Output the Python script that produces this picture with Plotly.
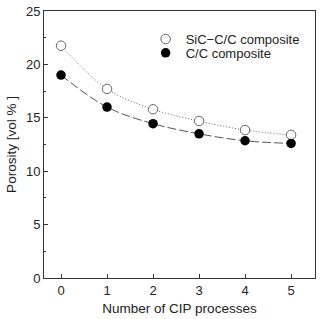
import plotly.graph_objects as go

cycles = [0, 1, 2, 3, 4, 5]
sic_cc = [21.75, 17.7, 15.8, 14.7, 13.85, 13.4]
cc = [19.0, 16.0, 14.45, 13.5, 12.85, 12.6]

fig = go.Figure()
fig.add_trace(go.Scatter(x=cycles, y=sic_cc, mode="lines", line=dict(color="#666", width=1, dash="1px,2px", shape="spline"), showlegend=False, hoverinfo="skip"))
fig.add_trace(go.Scatter(x=cycles, y=cc, mode="lines", line=dict(color="#555", width=1, dash="9px,3px", shape="spline"), showlegend=False, hoverinfo="skip"))
fig.add_trace(go.Scatter(x=cycles, y=sic_cc, mode="markers", name="SiC\u2212C/C composite", legend="legend",
                         marker=dict(symbol="circle", size=9.5, color="white", line=dict(width=1, color="#666"))))
fig.add_trace(go.Scatter(x=cycles, y=cc, mode="markers", name="C/C composite", legend="legend2",
                         marker=dict(symbol="circle", size=9.5, color="black", line=dict(width=0))))

leg_common = dict(xanchor="left", yanchor="middle", bgcolor="rgba(0,0,0,0)", itemsizing="trace",
                  font=dict(size=13), borderwidth=0)
fig.update_layout(
    width=326, height=319,
    margin=dict(l=44, r=11, t=11, b=41, autoexpand=False),
    paper_bgcolor="white", plot_bgcolor="white",
    font=dict(family="Liberation Sans, Arial, sans-serif", size=13, color="#222"),
    legend=dict(x=0.375, y=0.895, **leg_common),
    legend2=dict(x=0.375, y=0.843, **leg_common),
    showlegend=True,
)
fig.update_xaxes(range=[-0.37, 5.52], tickvals=cycles, ticks="inside", ticklen=4, tickcolor="#333",
                 showline=True, linecolor="#333", linewidth=1, mirror=True, showgrid=False, zeroline=False,
                 automargin=False,
                 title=dict(text="Number of CIP processes", standoff=6, font=dict(size=13.5)), tickfont=dict(size=13))
fig.update_yaxes(range=[0, 25], dtick=5, ticks="inside", ticklen=4, tickcolor="#333",
                 minor=dict(dtick=2.5, ticks="inside", ticklen=2, tickcolor="#333"),
                 showline=True, linecolor="#333", linewidth=1, mirror=True, showgrid=False, zeroline=False,
                 automargin=False,
                 title=dict(text="Porosity [vol % ]", standoff=6, font=dict(size=13.5)), tickfont=dict(size=13))

fig.write_html("out.html", config={"displayModeBar": False},
               post_script="document.body.style.margin='0';document.body.style.overflow='hidden';")
